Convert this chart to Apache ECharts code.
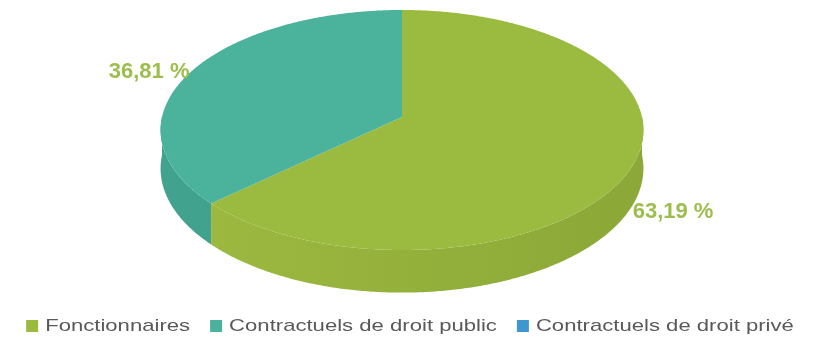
<!DOCTYPE html>
<html>
<head>
<meta charset="utf-8">
<script src="https://cdn.jsdelivr.net/npm/echarts@6/dist/echarts.min.js"></script>
<style>
  html, body { margin: 0; padding: 0; background: #ffffff; }
  #chart { width: 814px; height: 344px; }
</style>
</head>
<body>
<div id="chart"></div>
<script>
// Staff breakdown by status (share of headcount, %)
const categories = ['Fonctionnaires', 'Contractuels de droit public', 'Contractuels de droit privé'];
const shares = [63.19, 36.81, 0];

// Slice colours: top face, and the rim wall shaded from its lit side to its shadowed side
const topColors = ['#9BBB40', '#4BB29C', '#3E97CF'];
const wallLight = ['#9EBA40', '#41A28D', '#3586B8'];
const wallDark = ['#8BA838', '#3C9A86', '#2F7BAA'];
const labelColor = '#9DBD4C';
const legendTextColor = '#595959';
const FONT = '"Liberation Sans", Arial, Helvetica, sans-serif';

// Tilted disc seen in perspective: angles run clockwise from 12 o'clock
const disc = { cx: 402, cy: 117, rx: 240, ry: 118.6, depth: 38, persp: 0.1083 };

function project(theta, h) {
  const X = Math.sin(theta);
  const Z = -Math.cos(theta);          // -1 = far edge, +1 = near edge
  const s = 1 / (1 - Z * disc.persp);
  return [disc.cx + disc.rx * X * s, disc.cy + disc.ry * Z * s + h * disc.depth * s];
}

function arc(a, b, h) {
  const n = Math.max(2, Math.ceil((b - a) / (Math.PI / 360)));
  const pts = [];
  for (let k = 0; k <= n; k++) pts.push(project(a + (b - a) * k / n, h));
  return pts;
}

const total = shares.reduce((acc, v) => acc + v, 0);

function sliceRange(index, value) {
  let before = 0;
  for (let k = 0; k < index; k++) before += shares[k];
  const a = before / total * Math.PI * 2;
  const b = (before + value) / total * Math.PI * 2;
  return [a, b];
}

function formatShare(v) {
  return v.toFixed(2).replace('.', ',') + ' %';
}

function wallGradient(i) {
  return {
    type: 'linear', global: true,
    x: disc.cx - disc.rx, y: 0, x2: disc.cx + disc.rx, y2: 0,
    colorStops: [
      { offset: 0, color: wallLight[i] },
      { offset: 1, color: wallDark[i] }
    ]
  };
}

// Front rim wall of each slice (only the half facing the viewer)
function renderWall(params, api) {
  const i = params.dataIndex;
  const v = api.value(0);
  const [a, b] = sliceRange(i, v);
  const lo = Math.max(a, Math.PI / 2);
  const hi = Math.min(b, Math.PI * 1.5);
  if (!(v > 0) || hi <= lo) return { type: 'group', children: [] };
  const pts = arc(lo, hi, 0).concat(arc(lo, hi, 1).reverse());
  return {
    type: 'polygon',
    shape: { points: pts },
    style: { fill: wallGradient(i), stroke: null }
  };
}

// Top face of each slice plus its percentage label
function renderTop(params, api) {
  const i = params.dataIndex;
  const v = api.value(0);
  if (!(v > 0)) return { type: 'group', children: [] };
  const [a, b] = sliceRange(i, v);
  const pts = [[disc.cx, disc.cy]].concat(arc(a, b, 0));

  const mid = (a + b) / 2;
  const X = Math.sin(mid);
  const Z = -Math.cos(mid);
  const anchor = Z < 0 ? project(mid, 0) : project(mid, 1);
  const lx = anchor[0] + (X < 0 ? -2 : 1);
  const ly = anchor[1] + (Z < 0 ? 1 : 5);

  return {
    type: 'group',
    children: [
      {
        type: 'polygon',
        shape: { points: pts },
        style: { fill: topColors[i], stroke: null }
      },
      {
        type: 'text',
        x: lx, y: ly,
        z2: 10,
        style: {
          text: formatShare(v),
          fill: labelColor,
          font: 'bold 22px ' + FONT,
          align: X < 0 ? 'right' : 'left',
          verticalAlign: 'middle'
        }
      }
    ]
  };
}

// Legend row: coloured squares followed by widened labels
function buildLegend() {
  const ctx = document.createElement('canvas').getContext('2d');
  const fontSize = 17;
  ctx.font = fontSize + 'px ' + FONT;
  const stretch = 1.3;
  const box = 12, boxGap = 7, itemGap = 20;
  const widths = categories.map(c => ctx.measureText(c).width * stretch);
  const totalW = widths.reduce((acc, w) => acc + box + boxGap + w, 0) + itemGap * (categories.length - 1);
  let x = 410 - totalW / 2;
  const y = 326;
  const els = [];
  categories.forEach((name, i) => {
    els.push({
      type: 'rect',
      shape: { x: x, y: y - box / 2, width: box, height: box },
      style: { fill: topColors[i] }
    });
    els.push({
      type: 'text',
      x: x + box + boxGap, y: y + 0.5,
      scaleX: stretch,
      style: {
        text: name,
        fill: legendTextColor,
        font: fontSize + 'px ' + FONT,
        align: 'left',
        verticalAlign: 'middle'
      }
    });
    x += box + boxGap + widths[i] + itemGap;
  });
  return els;
}

const chart = echarts.init(document.getElementById('chart'), null, { renderer: 'canvas' });
chart.setOption({
  animation: false,
  backgroundColor: '#ffffff',
  series: [
    {
      type: 'custom',
      name: 'wall',
      coordinateSystem: 'none',
      silent: true,
      z: 1,
      renderItem: renderWall,
      data: shares
    },
    {
      type: 'custom',
      name: 'top',
      coordinateSystem: 'none',
      silent: true,
      z: 2,
      renderItem: renderTop,
      data: shares
    }
  ],
  graphic: buildLegend()
});
</script>
</body>
</html>
